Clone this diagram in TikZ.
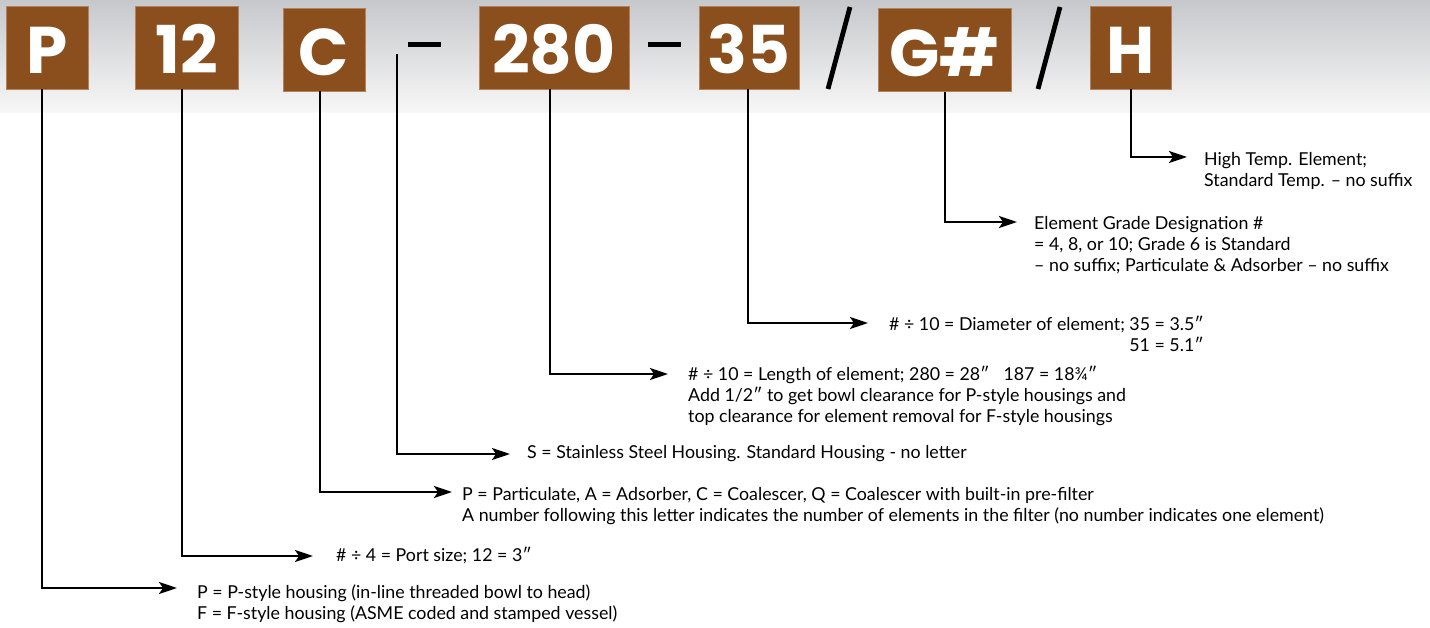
\documentclass[tikz,border=0pt]{standalone}
\usepackage{fontspec}
\usetikzlibrary{arrows.meta}
\newfontfamily\descfont{Lato}
\newfontfamily\codefont{Poppins}
\definecolor{codebrown}{RGB}{139,79,29}
\definecolor{codeedge}{RGB}{178,130,92}
\definecolor{bandtop}{RGB}{199,200,204}
\definecolor{bandbot}{RGB}{247,247,247}
\begin{document}
\begin{tikzpicture}[x=1pt,y=-1pt,
  codebox/.style={draw=codeedge, line width=0.8pt, fill=codebrown, text=white,
    font=\codefont\bfseries\fontsize{66}{66}\selectfont, inner sep=0pt,
    text height=53pt, text depth=0pt, minimum height=83pt},
  desc/.style={font=\descfont\fontsize{17.8}{21}\selectfont, align=left,
    inner sep=0pt, anchor=north west, text=black},
  conn/.style={line width=2.3pt, -{Stealth[length=18pt,width=12pt,inset=4pt]}},
  sepline/.style={line width=4.8pt},
  sepdash/.style={fill=black}
]
\useasboundingbox (0,0) rectangle (1430,628);
% shaded header band
\shade[top color=bandtop, bottom color=bandbot] (0,0) rectangle (1430,113);

% code segments
\node[codebox, minimum width=82pt]  (P)   at (47,47.5)    {P};
\node[codebox, minimum width=103pt] (N12) at (186.5,47.5) {12};
\node[codebox, minimum width=82pt]  (C)   at (324,49.5)   {C};
\node[codebox, minimum width=150pt] (L)   at (554,47.5)   {280};
\node[codebox, minimum width=100pt] (D)   at (749,47.5)   {35};
\node[codebox, minimum width=133pt] (G)   at (944.5,50)   {G\#};
\node[codebox, minimum width=81pt]  (H)   at (1130.5,47.5){H};

% separators
\fill[sepdash] (408,42.5) rectangle (441,47.5);
\fill[sepdash] (648,42.5) rectangle (681,47.5);
\draw[sepline] (828,89) -- (850,7);
\draw[sepline] (1038,89) -- (1060,7);

% descriptions
\node[desc] (tH) at (1204,151) {\strut High Temp. Element;\\Standard Temp. – no suffix};
\node[desc] (tG) at (1034,215) {\strut Element Grade Designation \#\\= 4, 8, or 10; Grade 6 is Standard\\– no suffix; Particulate \& Adsorber – no suffix};
\node[desc, align=right] (tD) at (889,316) {\strut \# ÷ 10 = Diameter of element; 35 = 3.5″\\51 = 5.1″};
\node[desc] (tL) at (688,366) {\strut \# ÷ 10 = Length of element; 280 = 28″\hspace{14pt}187 = 18¾″\\Add 1/2″ to get bowl clearance for P-style housings and\\top clearance for element removal for F-style housings};
\node[desc] (tS) at (527,444) {\strut S = Stainless Steel Housing. Standard Housing - no letter};
\node[desc] (tC) at (462,486) {\strut P = Particulate, A = Adsorber, C = Coalescer, Q = Coalescer with built-in pre-filter\\A number following this letter indicates the number of elements in the filter (no number indicates one element)};
\node[desc] (t12) at (336,547) {\strut \# ÷ 4 = Port size; 12 = 3″};
\node[desc] (tP) at (197,584) {\strut P = P-style housing (in-line threaded bowl to head)\\F = F-style housing (ASME coded and stamped vessel)};

% leaders
\coordinate (dtop) at (397,54);
\draw[conn] ([xshift=0.5pt]H.south) |- ([xshift=-17pt,yshift=-6pt]tH.north west);
\draw[conn] ([xshift=0.5pt]G.south) |- ([xshift=-17pt,yshift=-7pt]tG.north west);
\draw[conn] ([xshift=-1pt]D.south) |- ([xshift=-21pt,yshift=-7pt]tD.north west);
\draw[conn] ([xshift=-4pt]L.south) |- ([xshift=-20pt,yshift=-8pt]tL.north west);
\draw[conn] (dtop) |- ([xshift=-17pt,yshift=-10pt]tS.north west);
\draw[conn] ([xshift=-4pt]C.south) |- ([xshift=-10pt,yshift=-6pt]tC.north west);
\draw[conn] ([xshift=-4.5pt]N12.south) |- ([xshift=-23pt,yshift=-9pt]t12.north west);
\draw[conn] ([xshift=-5pt]P.south) |- ([xshift=-20pt,yshift=-4pt]tP.north west);
\end{tikzpicture}
\end{document}
